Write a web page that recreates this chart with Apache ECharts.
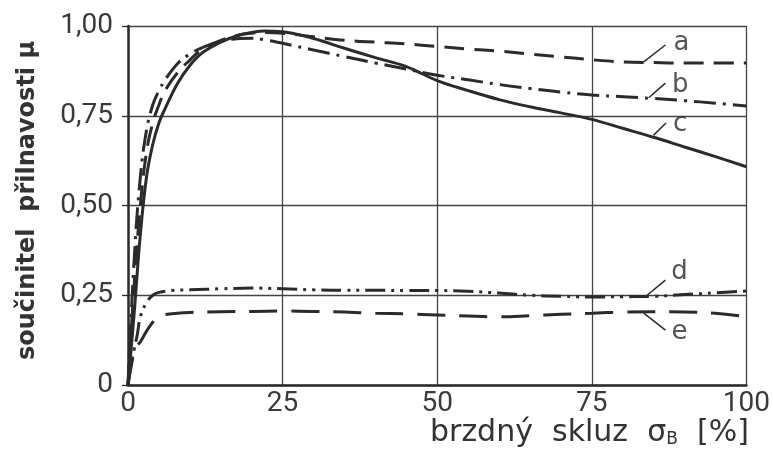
<!DOCTYPE html>
<html>
<head>
<meta charset="utf-8">
<script src="https://cdn.jsdelivr.net/npm/echarts@6/dist/echarts.min.js"></script>
<style>
html,body{margin:0;padding:0;background:#fff;}
#chart{width:773px;height:453px;}
</style>
</head>
<body>
<div id="chart"></div>
<script>
// brzdny skluz [%] a hodnoty soucinitele prilnavosti pro krivky a-e
var xABC = [0, 1, 2, 3, 4, 5, 6, 8, 10, 12, 15, 18, 20, 22, 25, 30, 35, 40, 45, 50, 55, 60, 65, 70, 75, 80, 85, 90, 95, 100];
var curveA = [0, 0.28, 0.50, 0.65, 0.73, 0.78, 0.82, 0.87, 0.905, 0.935, 0.96, 0.975, 0.98, 0.982, 0.98, 0.97, 0.96, 0.955, 0.95, 0.943, 0.936, 0.93, 0.922, 0.914, 0.906, 0.90, 0.898, 0.897, 0.897, 0.897];
var curveB = [0, 0.35, 0.58, 0.71, 0.78, 0.82, 0.85, 0.895, 0.922, 0.94, 0.957, 0.965, 0.966, 0.962, 0.952, 0.933, 0.915, 0.897, 0.88, 0.863, 0.85, 0.837, 0.826, 0.816, 0.808, 0.803, 0.798, 0.792, 0.785, 0.777];
var curveC = [0, 0.20, 0.42, 0.58, 0.67, 0.73, 0.77, 0.84, 0.89, 0.925, 0.955, 0.975, 0.982, 0.986, 0.984, 0.965, 0.938, 0.912, 0.887, 0.848, 0.82, 0.795, 0.775, 0.758, 0.74, 0.715, 0.69, 0.663, 0.636, 0.608];

var xD = [0, 0.5, 1, 1.5, 2, 3, 4, 5, 7, 10, 15, 20, 25, 30, 35, 40, 45, 50, 55, 60, 65, 70, 75, 80, 85, 90, 95, 100];
var curveD = [0, 0.06, 0.10, 0.14, 0.19, 0.23, 0.25, 0.258, 0.263, 0.265, 0.268, 0.27, 0.268, 0.265, 0.264, 0.264, 0.263, 0.263, 0.261, 0.256, 0.25, 0.247, 0.245, 0.246, 0.247, 0.252, 0.257, 0.262];

var xE = [0, 0.5, 1, 1.5, 2, 3, 4, 5, 6, 8, 10, 15, 20, 25, 30, 35, 40, 45, 50, 55, 60, 65, 70, 75, 80, 85, 90, 95, 100];
var curveE = [0, 0.05, 0.09, 0.11, 0.12, 0.15, 0.175, 0.19, 0.196, 0.20, 0.202, 0.204, 0.205, 0.206, 0.205, 0.203, 0.20, 0.198, 0.195, 0.192, 0.19, 0.193, 0.197, 0.20, 0.203, 0.204, 0.203, 0.20, 0.19];

// popisky krivek a odkazove carky
var labelNames = ['a', 'b', 'c', 'd', 'e'];
var labelPos = [[89.5, 0.953], [89.3, 0.836], [89.3, 0.727], [89.2, 0.315], [89.2, 0.148]];
var leaderFrom = [[83.4, 0.90], [84.2, 0.80], [85.0, 0.696], [83.6, 0.245], [83.4, 0.20]];
var leaderTo = [[86.9, 0.947], [86.9, 0.841], [87.0, 0.730], [86.9, 0.292], [86.9, 0.153]];

var yTicks = ['0', '0,25', '0,50', '0,75', '1,00'];

function pairs(xs, ys){
	var out = [];
	for (var i = 0; i < xs.length; i++) out.push([xs[i], ys[i]]);
	return out;
}

var ink = '#2b2b2b';
var fontName = 'DejaVu Sans';
var tickFont = 'Roboto';

function curve(name, xs, ys, dash, width){
	return {
		name: name,
		type: 'line',
		data: pairs(xs, ys),
		smooth: 0.4,
		showSymbol: false,
		symbol: 'none',
		silent: true,
		lineStyle: { color: ink, width: width, type: dash, cap: 'butt' }
	};
}

var labelData = [];
for (var i = 0; i < labelNames.length; i++) {
	labelData.push([labelPos[i][0], labelPos[i][1], labelNames[i]]);
}
var leaderLines = [];
for (var j = 0; j < leaderFrom.length; j++) {
	leaderLines.push([{ coord: leaderFrom[j] }, { coord: leaderTo[j] }]);
}

var myChart = echarts.init(document.getElementById('chart'));
var option = {
	backgroundColor: '#ffffff',
	animation: false,
	grid: { left: 128, right: 23, top: 26, bottom: 68 },
	xAxis: {
		type: 'value',
		min: 0, max: 100, interval: 25,
		axisLine: { show: true, onZero: false, lineStyle: { color: ink, width: 2.5 } },
		axisTick: { show: false },
		axisLabel: { color: '#3a3a3a', fontFamily: tickFont, fontSize: 28, margin: 5 },
		splitLine: { show: true, lineStyle: { color: '#444', width: 1.3 } }
	},
	yAxis: {
		type: 'value',
		min: 0, max: 1, interval: 0.25,
		name: 'součinitel  přilnavosti μ',
		nameLocation: 'middle',
		nameGap: 88,
		nameTextStyle: { color: '#333', fontFamily: fontName, fontSize: 24, fontWeight: 'bold', padding: [0, 0, 0, 10] },
		axisLine: { show: true, lineStyle: { color: ink, width: 2.5 } },
		axisTick: { show: true, length: 6, inside: false, lineStyle: { color: ink, width: 1.3 } },
		axisLabel: {
			color: '#3a3a3a', fontFamily: tickFont, fontSize: 28, margin: 15,
			formatter: function (v) { return yTicks[Math.round(v / 0.25)]; }
		},
		splitLine: { show: true, lineStyle: { color: '#444', width: 1.3 } }
	},
	graphic: [{
		type: 'text',
		left: 430, top: 418,
		silent: true,
		style: {
			text: 'brzdný  skluz  {s|σ}{sub|B}  [%]',
			fill: '#333',
			font: '30px "DejaVu Sans"',
			rich: {
				s: { fontSize: 30, fontFamily: fontName, fill: '#333' },
				sub: { fontSize: 17, fontFamily: fontName, fill: '#333', verticalAlign: 'bottom', padding: [13, 0, 0, 0] }
			}
		}
	}],
	series: [
		curve('a', xABC, curveA, [20, 10], 3),
		curve('b', xABC, curveB, [22, 7, 3, 7], 3),
		curve('c', xABC, curveC, 'solid', 3),
		curve('d', xD, curveD, [20, 6, 3, 6, 3, 6], 3),
		curve('e', xE, curveE, [28, 14], 3),
		{
			name: 'popisky',
			type: 'scatter',
			data: labelData,
			symbolSize: 0,
			silent: true,
			label: {
				show: true,
				position: 'inside',
				color: '#2b2b2b',
				fontFamily: fontName,
				fontSize: 26,
				formatter: function (p) { return p.value[2]; }
			},
			markLine: {
				silent: true,
				symbol: ['none', 'none'],
				label: { show: false },
				lineStyle: { color: ink, width: 1.5, type: 'solid' },
				data: leaderLines
			}
		}
	]
};
myChart.setOption(option);
</script>
</body>
</html>
